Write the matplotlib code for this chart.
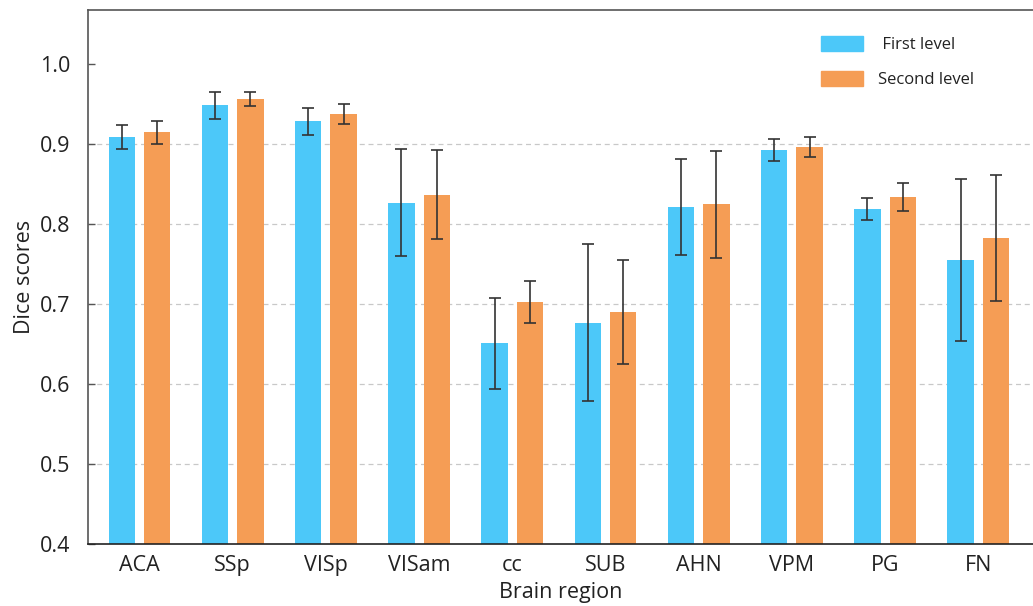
import numpy as np
import matplotlib.pyplot as plt
from matplotlib.patches import Patch

plt.rcParams['font.family'] = ['Open Sans', 'DejaVu Sans']

regions = ['ACA', 'SSp', 'VISp', 'VISam', 'cc', 'SUB', 'AHN', 'VPM', 'PG', 'FN']
first_level = [0.909, 0.949, 0.929, 0.827, 0.651, 0.677, 0.822, 0.893, 0.819, 0.755]
first_err = [0.015, 0.017, 0.017, 0.067, 0.057, 0.098, 0.060, 0.014, 0.0135, 0.101]
second_level = [0.915, 0.957, 0.938, 0.837, 0.703, 0.690, 0.825, 0.897, 0.834, 0.783]
second_err = [0.014, 0.009, 0.013, 0.056, 0.026, 0.065, 0.067, 0.0125, 0.0175, 0.079]

c_first = '#4CC8F9'
c_second = '#F59D55'

fig = plt.figure(figsize=(10.33, 6.06), dpi=100)
ax = fig.add_axes([88 / 1033, 1 - 544 / 606, 1 - 88 / 1033, (544 - 10) / 606])

x = np.arange(len(regions))
w = 0.284
off = 0.19

# grid lines behind the bars
for g in [0.5, 0.6, 0.7, 0.8, 0.9]:
    ax.axhline(g, color='#c8c8c8', lw=0.9, ls=(0, (4, 3)), zorder=0)

err_kw = dict(ecolor='#333333', elinewidth=1.2, capsize=4, capthick=1.2)
ax.bar(x - off, first_level, w, yerr=first_err, color=c_first, error_kw=err_kw, zorder=2)
ax.bar(x + off, second_level, w, yerr=second_err, color=c_second, error_kw=err_kw, zorder=2)

ax.set_xlim(-0.553, 9.587)
ax.set_ylim(0.4, 1.068)
ax.set_xticks(x)
ax.set_xticklabels(regions)
ax.set_yticks([0.4, 0.5, 0.6, 0.7, 0.8, 0.9, 1.0])
ax.set_yticklabels(['0.4', '0.5', '0.6', '0.7', '0.8', '0.9', '1.0'])
ax.tick_params(axis='y', direction='in', length=5, width=1, color='#555555',
               labelsize=15.5, labelcolor='#222222', pad=13)
ax.tick_params(axis='x', length=0, labelsize=15.5, labelcolor='#222222', pad=8)

for s in ['left', 'top']:
    ax.spines[s].set_color('#555555')
    ax.spines[s].set_linewidth(1.2)
ax.spines['bottom'].set_color('#222222')
ax.spines['bottom'].set_linewidth(1.2)
ax.spines['right'].set_visible(False)

ax.set_xlabel('Brain region', fontsize=15.5, color='#222222', labelpad=4)
ax.set_ylabel('Dice scores', fontsize=15.5, color='#222222', labelpad=3)

handles = [Patch(color=c_first, label=' First level'), Patch(color=c_second, label='Second level')]
ax.legend(handles=handles, loc='upper left', bbox_to_anchor=(806 / 1033, 1 - 21 / 606),
          bbox_transform=fig.transFigure, frameon=False, fontsize=12,
          handlelength=2.5, handleheight=1.0, handletextpad=0.95, labelspacing=1.05,
          labelcolor='#222222')

fig.savefig('out.png', dpi=100)
